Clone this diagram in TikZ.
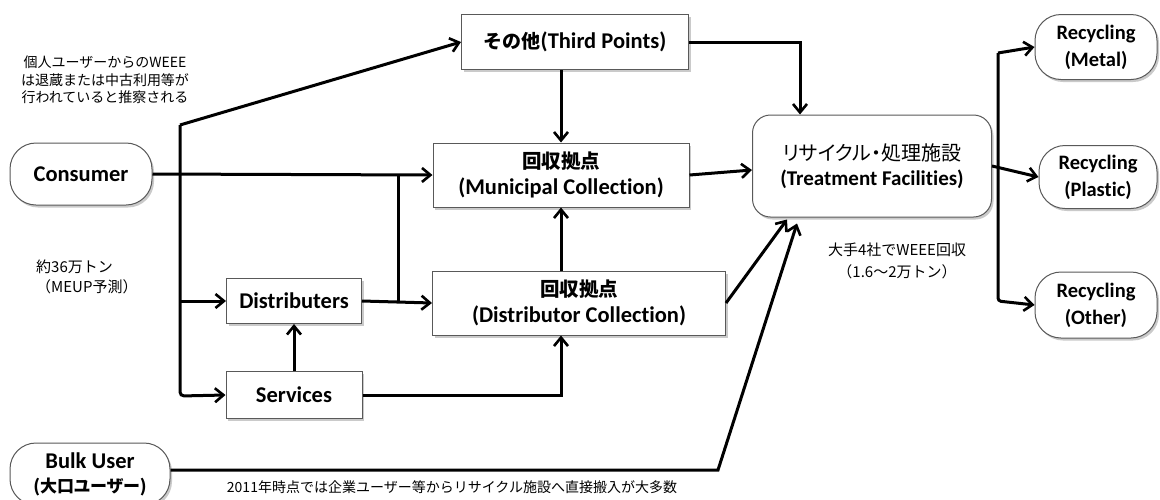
\documentclass[tikz,border=0pt]{standalone}
\usepackage{fontspec}
\setmainfont{Carlito}[RawFeature=-liga]
\newfontfamily\cjk{Noto Sans CJK JP}
\newfontfamily\cjkp[RawFeature=+palt]{Noto Sans CJK JP}
\usetikzlibrary{arrows.meta,shadows,calc}
\begin{document}
\begin{tikzpicture}[x=1pt,y=-1pt,
  box/.style={draw=black!65, line width=1pt, fill=white, align=center, inner sep=0pt,
    font=\bfseries\fontsize{22.5}{26}\selectfont,
    drop shadow={shadow xshift=2pt,shadow yshift=-2.5pt,fill=black!35,opacity=0.6}},
  pill/.style={box, rounded corners=26pt},
  rec/.style={pill, font=\bfseries\fontsize{20.5}{27}\selectfont},
  arr/.style={line width=3pt, -{Straight Barb[length=8.5pt,width=14pt,line width=2.6pt]}},
  ln/.style={line width=3pt},
  note/.style={align=center, inner sep=0pt, font=\cjk\fontsize{14}{17.5}\selectfont}
]
\useasboundingbox (0,0) rectangle (1160,499);

% nodes
\node[pill, minimum width=142pt, minimum height=62pt] (consumer) at (81,174) {Consumer};
\node[pill, minimum width=160pt, minimum height=62pt, font=\bfseries\fontsize{22.5}{24}\selectfont] (bulk) at (90,474)
  {Bulk User\\{\cjkp\fontsize{17}{24}\selectfont (大口ユーザー)}};
\node[box, minimum width=227pt, minimum height=55pt] (third) at (575,42) {{\cjk\fontsize{19}{26}\selectfont その他}(Third Points)};
\node[box, minimum width=256pt, minimum height=64pt] (muni) at (561,175) {{\cjk\fontsize{19.5}{26}\selectfont 回収拠点}\\(Municipal Collection)};
\node[box, minimum width=293pt, minimum height=64pt] (distc) at (579,303) {{\cjk\fontsize{19.5}{26}\selectfont 回収拠点}\\(Distributor Collection)};
\node[box, minimum width=135pt, minimum height=45pt] (distr) at (294,301) {Distributers};
\node[box, minimum width=136pt, minimum height=47pt] (serv) at (294,395) {Services};
\node[box, rounded corners=18pt, minimum width=239pt, minimum height=102pt, font=\bfseries\fontsize{21}{25}\selectfont] (treat) at (872,166)
  {{\mdseries\cjkp\fontsize{20}{25}\selectfont リサイクル・処理施設}\\(Treatment Facilities)};
\node[rec, minimum width=122pt, minimum height=65pt] (metal) at (1096,47) {Recycling\\(Metal)};
\node[rec, minimum width=118pt, minimum height=63pt] (plastic) at (1098,177) {Recycling\\(Plastic)};
\node[rec, minimum width=122pt, minimum height=66pt] (other) at (1096,305) {Recycling\\(Other)};

% notes
\node[note] (n1) at (105,80) {個人ユーザーからのWEEE\\は退蔵または中古利用等が\\行われていると推察される};
\node[note, align=left, anchor=west, font=\cjk\fontsize{15}{20}\selectfont] (n2) at (36,277) {約36万トン\\（MEUP予測）};
\node[note, font=\cjk\fontsize{15}{22}\selectfont] (n3) at (897,261) {大手4社でWEEE回収\\（1.6〜2万トン）};
\node[note] (n4) at (452,487) {2011年時点では企業ユーザー等からリサイクル施設へ直接搬入が大多数};

% junction coordinates
\coordinate (top) at (180,125);
\coordinate (bot) at (180,396);
\coordinate (jd) at (180,301);
\coordinate (j1) at (398,174);
\coordinate (j2) at (398,301);
\coordinate (bb) at (718,470);
\coordinate (rt) at (998,53);
\coordinate (rb) at (998,301);

% connectors
\draw[arr] (top) -- (third.west);
\draw[arr, rounded corners=4pt] (top) -- (bot) -- (serv.west);
\draw[arr] (jd) -- (distr.west);
\draw[arr] (consumer.east) -- (muni.west);
\draw[ln] (j1) -- (j2);
\draw[arr] (distr.east) -- (distc.west);
\draw[arr] (serv.north) -- (distr.south);
\draw[arr] (serv.east) -| (muni.south |- distc.south);
\draw[arr] (muni.south |- distc.north) -- (muni.south);
\draw[arr] (third.south -| muni.north) -- (muni.north);
\draw[arr] (third.east) -| ($(treat.north)+(-72,0)$);
\draw[arr] (muni.east) -- ($(treat.west)+(0,4)$);
\draw[arr] (distc.east) -- ($(treat.south west)+(35,2)$);
\draw[arr] (bulk.east |- bb) -- (bb) -- ($(treat.south west)+(45,6)$);
\draw[arr] (treat.east) -- (plastic.west);
\draw[arr] (rt) -- (metal.west);
\draw[arr, rounded corners=3pt] (rt) -- (rb) -- (other.west);
\end{tikzpicture}
\end{document}
